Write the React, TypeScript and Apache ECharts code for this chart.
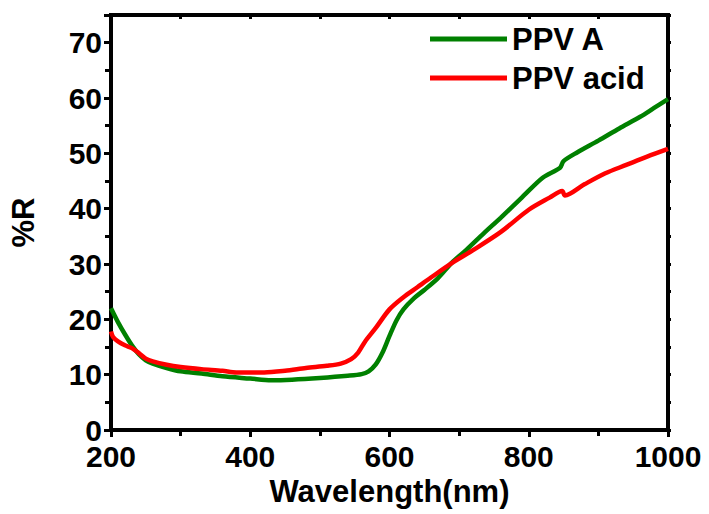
import React, { useEffect, useRef } from "react";
import * as echarts from "echarts";

const ppvAWavelength = [200, 210, 220, 230, 240, 250, 260, 280, 300, 330, 360, 400, 430, 460, 500, 540, 560, 570, 580, 590, 600, 610, 620, 635, 650, 670, 690, 710, 735, 760, 790, 820, 845, 850, 870, 900, 930, 960, 980, 1000];
const ppvAValues = [22.0, 19.5, 17.3, 15.3, 13.7, 12.6, 12.0, 11.2, 10.6, 10.2, 9.7, 9.3, 9.0, 9.1, 9.4, 9.8, 10.1, 10.6, 11.8, 14.0, 17.0, 19.8, 21.8, 23.8, 25.3, 27.5, 30.3, 32.5, 35.5, 38.4, 42.0, 45.6, 47.4, 48.6, 50.2, 52.3, 54.5, 56.6, 58.2, 59.8];

const ppvAcidWavelength = [200, 203, 210, 220, 230, 240, 250, 260, 280, 300, 330, 360, 380, 400, 420, 450, 480, 510, 530, 545, 555, 565, 580, 600, 620, 640, 660, 690, 720, 760, 800, 830, 848, 852, 880, 910, 940, 970, 1000];
const ppvAcidValues = [17.8, 16.8, 16.0, 15.3, 14.8, 13.9, 12.9, 12.4, 11.8, 11.4, 11.0, 10.7, 10.4, 10.4, 10.4, 10.7, 11.2, 11.6, 12.0, 12.8, 14.0, 16.0, 18.4, 21.8, 24.0, 25.8, 27.6, 30.2, 32.5, 35.8, 39.8, 42.0, 43.2, 42.4, 44.4, 46.4, 47.9, 49.4, 50.8];

const seriesNames = ["PPV A", "PPV acid"];
const seriesColors = ["#008000", "#ff0000"];
const xTitle = "Wavelength(nm)";
const yTitle = "%R";

const FONT = "'Liberation Sans', Arial, sans-serif";

export default function App() {
  const ref = useRef<HTMLDivElement>(null);
  useEffect(() => {
    if (!ref.current) return;
    const chart = echarts.init(ref.current, undefined, { renderer: "svg" });
    const pair = (xs: number[], ys: number[]) => xs.map((x, i) => [x, ys[i]]);
    const labelStyle = { color: "#000", fontSize: 31, fontWeight: "bold" as const, fontFamily: FONT };
    const tickFont = { color: "#000", fontSize: 30, fontWeight: "bold" as const, fontFamily: FONT };
    const mkLine = () => ({ show: true, onZero: false, lineStyle: { color: "#000", width: 4 } });
    chart.setOption({
      animation: false,
      backgroundColor: "#fff",
      grid: {
        left: 111, top: 15, right: 41, bottom: 84, containLabel: false,
        show: true, borderColor: "#000", borderWidth: 4, backgroundColor: "rgba(0,0,0,0)",
      },
      legend: {
        orient: "vertical",
        left: 430,
        top: 23,
        padding: 0,
        itemWidth: 77,
        itemHeight: 5,
        itemGap: 7,
        icon: "rect",
        data: seriesNames,
        textStyle: { ...labelStyle, lineHeight: 32, padding: [0, 0, 0, 0] },
      },
      xAxis: [
        {
          type: "value",
          position: "bottom",
          min: 200,
          max: 1000,
          interval: 200,
          name: xTitle,
          nameLocation: "middle",
          nameGap: 46,
          nameTextStyle: labelStyle,
          axisLine: mkLine(),
          axisTick: { show: true, inside: false, length: 7, lineStyle: { color: "#000", width: 3 } },
          minorTick: { show: true, splitNumber: 2, length: 6, lineStyle: { color: "#000", width: 3 } },
          axisLabel: { ...tickFont, lineHeight: 22, margin: 15, formatter: (v: number) => String(v) },
          splitLine: { show: false },
        },
        {
          type: "value",
          position: "top",
          min: 200,
          max: 1000,
          interval: 100,
          axisLine: mkLine(),
          axisTick: { show: true, inside: true, length: 4, lineStyle: { color: "#000", width: 3 } },
          axisLabel: { show: false },
          splitLine: { show: false },
        },
      ],
      yAxis: [
        {
          type: "value",
          position: "left",
          min: 0,
          max: 75,
          interval: 10,
          name: yTitle,
          nameLocation: "middle",
          nameGap: 72,
          nameTextStyle: labelStyle,
          axisLine: mkLine(),
          axisTick: { show: true, inside: false, length: 7, lineStyle: { color: "#000", width: 3 } },
          minorTick: { show: true, splitNumber: 2, length: 6, lineStyle: { color: "#000", width: 3 } },
          axisLabel: { ...tickFont, lineHeight: 22, margin: 9, formatter: (v: number) => String(v) },
          splitLine: { show: false },
        },
        {
          type: "value",
          position: "right",
          min: 0,
          max: 75,
          interval: 5,
          axisLine: mkLine(),
          axisTick: { show: true, inside: false, length: 3, lineStyle: { color: "#000", width: 3 } },
          axisLabel: { show: false },
          splitLine: { show: false },
        },
      ],
      series: [
        {
          name: seriesNames[0],
          type: "line",
          data: pair(ppvAWavelength, ppvAValues),
          showSymbol: false,
          smooth: 0.3,
          color: seriesColors[0],
          lineStyle: { color: seriesColors[0], width: 4.5 },
        },
        {
          name: seriesNames[1],
          type: "line",
          data: pair(ppvAcidWavelength, ppvAcidValues),
          showSymbol: false,
          smooth: 0.3,
          color: seriesColors[1],
          lineStyle: { color: seriesColors[1], width: 4.5 },
        },
      ],
    });
    return () => chart.dispose();
  }, []);
  return <div ref={ref} style={{ position: "fixed", left: 0, top: 0, width: 709, height: 514, background: "#fff" }} />;
}
